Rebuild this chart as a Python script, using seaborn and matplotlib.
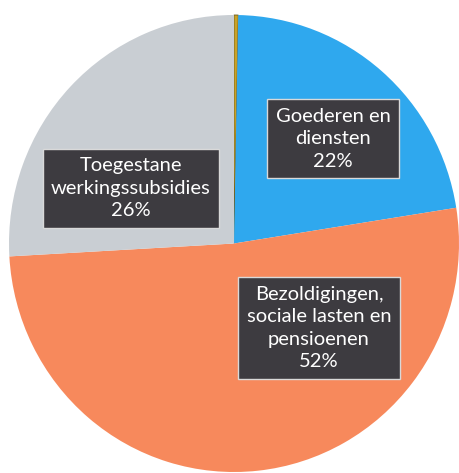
import matplotlib
matplotlib.use("Agg")
import matplotlib.pyplot as plt
import seaborn as sns

# data
categorieen = ["", "Goederen en\ndiensten", "Bezoldigingen,\nsociale lasten en\npensioenen",
               "Toegestane\nwerkingssubsidies"]
aandelen = [0.3, 22.2, 51.6, 25.9]
kleuren = ["#c9a227", "#2fa8ee", "#f7895c", "#c9ced3"]

# label positions (axes fraction), one per category
label_pos = [None, (0.72, 0.729), (0.689, 0.315), (0.271, 0.621)]

sns.set_style("white")
plt.rcParams["font.family"] = ["Lato", "DejaVu Sans"]

fig = plt.figure(figsize=(4.59, 4.73), dpi=100)
ax = fig.add_axes([9 / 459, 1 / 473, 450 / 459, 457 / 473])

wedges, _ = ax.pie(aandelen, colors=kleuren, startangle=90, counterclock=False,
                   wedgeprops=dict(linewidth=0))
wedges[0].set_edgecolor("#6b5a1a")
wedges[0].set_linewidth(0.6)
ax.set_xlim(-1, 1)
ax.set_ylim(-1, 1)
ax.set_aspect("auto")

for naam, waarde, pos in zip(categorieen, aandelen, label_pos):
    if pos is None:
        continue
    ax.text(pos[0], pos[1], f"{naam}\n{round(waarde)}%", transform=ax.transAxes,
            ha="center", va="center", color="white", fontsize=14.5, linespacing=1.4,
            bbox=dict(boxstyle="square,pad=0.42", facecolor="#3d3b40",
                      edgecolor="#d9d9d9", linewidth=1))

fig.savefig("out.png", dpi=100)
